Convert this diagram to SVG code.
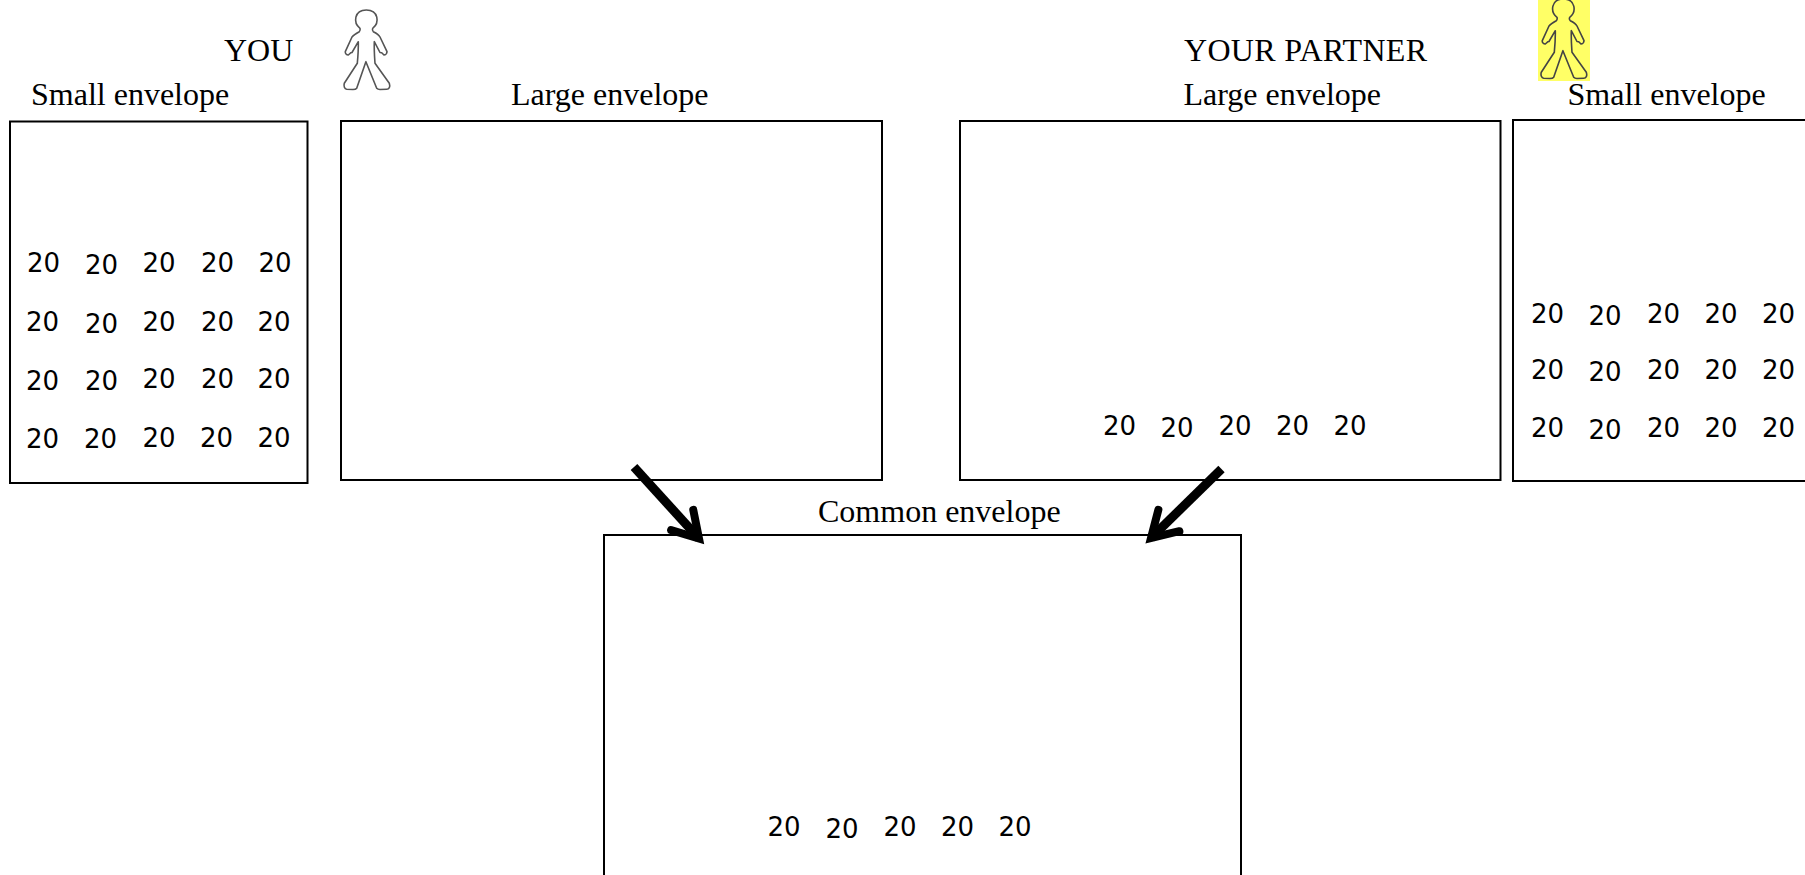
<svg xmlns="http://www.w3.org/2000/svg" xmlns:xlink="http://www.w3.org/1999/xlink" width="1805" height="875" viewBox="0 0 1805 875">
<style>
.box{fill:none;stroke:#000;stroke-width:2}
.lbl{font-family:"Liberation Serif","Times New Roman",serif;font-size:32px;fill:#000}
.num{font-family:"DejaVu Sans",sans-serif;font-size:26px;fill:#000}
.arrow{fill:none;stroke:#000;stroke-width:9;marker-end:url(#head)}
.person{fill:none;stroke-width:1.6;stroke-linejoin:round}
</style>
<defs>
<marker id="head" markerUnits="userSpaceOnUse" orient="auto" markerWidth="80" markerHeight="80" refX="0" refY="0" viewBox="-40 -40 80 80" overflow="visible">
<path d="M-25,-15 L0,0 L-25,15" fill="none" stroke="#000" stroke-width="8" stroke-linecap="round" stroke-miterlimit="10"/>
</marker>
<path id="fig" d="M360,28.3 C353,23 354,10 366.3,10 C378.7,10 379.7,23 372.7,28.3 C372,30 372.5,31 373.3,31.7 C377,33.5 379,35 380,37 L387,51.7 C387,53.5 385.5,55 384,55 L381.7,52.7 L380,52.5 L374.3,41.7 C374,50 374.5,56 375,63.3 L389.3,83.3 C390.5,87 389,89.3 386.7,89.3 L380,89.5 C378.5,89.5 377.3,89 376.7,88.3 L365.9,61.7 L356.7,88.3 C356,89.2 354.5,89.5 353,89.5 L346.7,89.3 C344.5,89 343.5,86 344.3,83.3 L357.3,63.3 C358,56 358.5,50 358.3,41.7 L352,52.5 L351,52.7 L348.3,55 C346.5,55 345,53.5 345.3,51.7 L352,37 C353.5,35 356,33.5 359.3,31.7 C360,31 360.5,30 360,28.3 Z"/>
</defs>
<rect width="1805" height="875" fill="#fff"/>
<g id="connectors">
<path class="arrow" d="M634,467 L699,538.5"/>
<path class="arrow" d="M1221.5,469 L1151,538"/>
</g>
<g id="you-figure"><text class="lbl" x="224" y="61">YOU</text><use xlink:href="#fig" href="#fig" class="person" stroke="#555"/></g>
<g id="partner-figure"><text class="lbl" x="1184" y="61" textLength="243" lengthAdjust="spacing">YOUR PARTNER</text><rect x="1538" y="0" width="52" height="81" fill="#ffff66"/><use xlink:href="#fig" href="#fig" class="person" stroke="#444" transform="translate(1197,-11)"/></g>
<g id="you-small">
<text class="lbl" x="31" y="105">Small envelope</text>
<rect class="box" x="10" y="121.5" width="297.5" height="361.5"/>
<g class="num">
<text x="27" y="272">20</text><text x="85" y="274">20</text><text x="142.5" y="272">20</text><text x="201" y="272">20</text><text x="258.5" y="272">20</text>
<text x="26" y="331">20</text><text x="85" y="333">20</text><text x="142.5" y="331">20</text><text x="201" y="331">20</text><text x="257.5" y="331">20</text>
<text x="26" y="390">20</text><text x="85" y="390">20</text><text x="142.5" y="388">20</text><text x="201" y="388">20</text><text x="257.5" y="388">20</text>
<text x="26" y="448">20</text><text x="84" y="448">20</text><text x="142.5" y="447">20</text><text x="200" y="447">20</text><text x="257.5" y="447">20</text>
</g>
</g>
<g id="you-large">
<text class="lbl" x="511" y="105">Large envelope</text>
<rect class="box" x="341" y="121" width="541" height="359"/>
</g>
<g id="partner-large">
<text class="lbl" x="1183.5" y="105">Large envelope</text>
<rect class="box" x="960" y="121" width="540.5" height="359"/>
<g class="num"><text x="1103" y="435">20</text><text x="1160.5" y="437">20</text><text x="1218.5" y="435">20</text><text x="1276" y="435">20</text><text x="1333.5" y="435">20</text></g>
</g>
<g id="partner-small">
<text class="lbl" x="1567.5" y="105">Small envelope</text>
<rect class="box" x="1513" y="120" width="300" height="361"/>
<g class="num">
<text x="1531" y="323">20</text><text x="1588.5" y="325">20</text><text x="1647" y="323">20</text><text x="1704.5" y="323">20</text><text x="1762" y="323">20</text>
<text x="1531" y="379">20</text><text x="1588.5" y="381">20</text><text x="1647" y="379">20</text><text x="1704.5" y="379">20</text><text x="1762" y="379">20</text>
<text x="1531" y="437">20</text><text x="1588.5" y="439">20</text><text x="1647" y="437">20</text><text x="1704.5" y="437">20</text><text x="1762" y="437">20</text>
</g>
</g>
<g id="common">
<text class="lbl" x="818" y="522">Common envelope</text>
<rect class="box" x="604" y="535" width="637" height="345"/>
<g class="num"><text x="767.5" y="836">20</text><text x="825.5" y="838">20</text><text x="883.5" y="836">20</text><text x="941" y="836">20</text><text x="998.5" y="836">20</text></g>
</g>
</svg>
